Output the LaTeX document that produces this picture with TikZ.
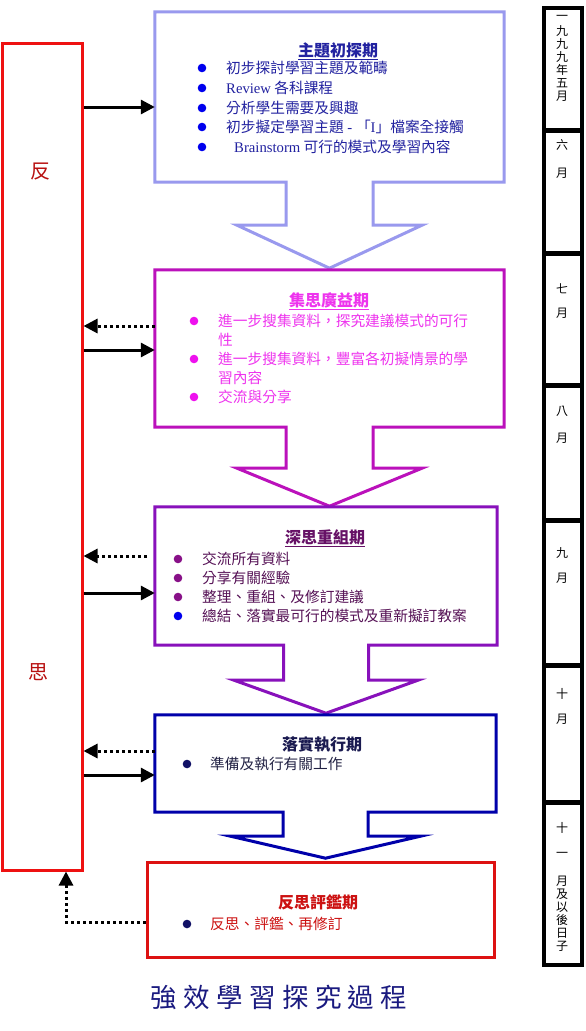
\documentclass[tikz,border=0pt]{standalone}
\usepackage{fontspec}
\setmainfont{Liberation Serif}
\newfontfamily\cjk{Noto Sans CJK TC}
\usetikzlibrary{arrows.meta,calc}
\definecolor{lav}{HTML}{9999EE}
\definecolor{navytxt}{HTML}{2222A0}
\definecolor{bblue}{HTML}{0000EE}
\definecolor{mag}{HTML}{BB11BB}
\definecolor{magtxt}{HTML}{EE33EE}
\definecolor{magdot}{HTML}{EE11EE}
\definecolor{purp}{HTML}{8811BB}
\definecolor{purptxt}{HTML}{551155}
\definecolor{purpb}{HTML}{881188}
\definecolor{purphead}{HTML}{661166}
\definecolor{dblue}{HTML}{0000AA}
\definecolor{dnavy}{HTML}{1A1A50}
\definecolor{navytext}{HTML}{222244}
\definecolor{bnavy}{HTML}{111166}
\definecolor{rred}{HTML}{DD1111}
\definecolor{lred}{HTML}{EE1111}
\definecolor{rtxt}{HTML}{CC1111}
\definecolor{ttl}{HTML}{1A1A80}
% node, colour, stem half width, stem length, head half width, tip length
\newcommand\stagepath[6]{%
  \draw[#2, line width=3pt] (#1.north west) -- (#1.north east) -- (#1.south east)
    -- ($(#1.south)+(#3,0)$) -- ($(#1.south)+(#3,#4)$) -- ($(#1.south)+(#5,#4)$)
    -- ($(#1.south)+(0,#4+#6)$) -- ($(#1.south)+(-#5,#4)$) -- ($(#1.south)+(-#3,#4)$)
    -- ($(#1.south)+(-#3,0)$) -- (#1.south west) -- cycle;}
\begin{document}
\begin{tikzpicture}[x=1pt,y=-1pt,
  stagebox/.style={draw=none, inner sep=0},
  item/.style={anchor=base west, inner sep=0, font=\cjk\fontsize{14.7}{19}\selectfont},
  head/.style={anchor=base, inner sep=0, font=\cjk\bfseries\fontsize{16}{19}\selectfont},
  dot/.style={circle, inner sep=0, minimum size=8.6pt},
  solidarr/.style={line width=3pt, -{Triangle[length=14pt,width=14pt]}},
  dotarr/.style={line width=3pt, dash pattern=on 3pt off 3pt, -{Triangle[length=14pt,width=14pt]}},
  mon/.style={inner sep=0, font=\cjk\fontsize{12}{13}\selectfont},
  side/.style={inner sep=0, font=\cjk\fontsize{20}{22}\selectfont, text=rtxt!90!black}
]
\useasboundingbox (0,0) rectangle (586,1031);
\fill[white] (0,0) rectangle (586,1031);

% stage boxes
\node[stagebox, minimum width=349pt, minimum height=170pt] (s1) at (329.5,97) {};
\node[stagebox, minimum width=349pt, minimum height=157pt] (s2) at (329.5,348.5) {};
\node[stagebox, minimum width=342pt, minimum height=138pt] (s3) at (326,576) {};
\node[stagebox, minimum width=341pt, minimum height=97pt] (s4) at (325.5,763.5) {};
\node[draw=rred, line width=3pt, inner sep=0, minimum width=347pt, minimum height=95pt] (s5) at (320.5,909.5) {};
\stagepath{s1}{lav}{43.5}{43}{92.5}{43}
\stagepath{s2}{mag}{43.5}{41}{92.5}{38}
\stagepath{s3}{purp}{42.5}{35}{92}{33}
\stagepath{s4}{dblue}{42.5}{24}{95}{22}

% left reflection box
\node[draw=lred, line width=3pt, inner sep=0, minimum width=80pt, minimum height=827pt] (refl) at (42,456.5) {};
\node[side] (fan) at (40,172) {反};
\node[side] (si) at (38,672) {思};

% stage 1
\node[head, navytxt] (h1) at (338,56) {\underline{主題初探期}};
\foreach \y [count=\i] in {68,88,108,127,147}
  \node[dot, fill=bblue] (b1\i) at (202,\y) {};
\node[item, navytxt] (t11) at (226,73.5) {初步探討學習主題及範疇};
\node[item, navytxt] (t12) at (226,93.5) {{\rmfamily Review} 各科課程};
\node[item, navytxt] (t13) at (226,113.5) {分析學生需要及興趣};
\node[item, navytxt] (t14) at (226,132.5) {初步擬定學習主題{\rmfamily\ -\ }「{\rmfamily I}」檔案全接觸};
\node[item, navytxt] (t15) at (234,152.5) {{\rmfamily Brainstorm} 可行的模式及學習內容};

% stage 2
\node[head, magtxt] (h2) at (329,306) {\underline{集思廣益期}};
\foreach \y [count=\i] in {321,359,397}
  \node[dot, fill=magdot] (b2\i) at (194,\y) {};
\node[item, magtxt] (t21) at (218,326.5) {進一步搜集資料，探究建議模式的可行};
\node[item, magtxt] (t22) at (218,345.5) {性};
\node[item, magtxt] (t23) at (218,364.5) {進一步搜集資料，豐富各初擬情景的學};
\node[item, magtxt] (t24) at (218,383.5) {習內容};
\node[item, magtxt] (t25) at (218,402.5) {交流與分享};

% stage 3
\node[head, purphead] (h3) at (325,543) {\underline{深思重組期}};
\foreach \y [count=\i] in {559,578,597}
  \node[dot, fill=purpb] (b3\i) at (178,\y) {};
\node[dot, fill=bblue] (b34) at (178,616) {};
\node[item, purptxt] (t31) at (202,564.5) {交流所有資料};
\node[item, purptxt] (t32) at (202,583.5) {分享有關經驗};
\node[item, purptxt] (t33) at (202,602.5) {整理、重組、及修訂建議};
\node[item, purptxt] (t34) at (202,621.5) {總結、落實最可行的模式及重新擬訂教案};

% stage 4
\node[head, dnavy] (h4) at (322,750) {落實執行期};
\node[dot, fill=bnavy] (b41) at (187,764) {};
\node[item, navytext] (t41) at (210,769.5) {準備及執行有關工作};

% stage 5
\node[head, rtxt] (h5) at (318,908) {反思評鑑期};
\node[dot, fill=bnavy] (b51) at (187,924) {};
\node[item, rtxt] (t51) at (210,929.5) {反思、評鑑、再修訂};

% connectors
\coordinate (a1) at (0,107);
\coordinate (d2) at (0,326);
\coordinate (a2) at (0,350);
\coordinate (d3) at (147,556);
\coordinate (a3) at (0,593);
\coordinate (d4) at (0,751);
\coordinate (a4) at (0,775);
\coordinate (c5) at (66,922);
\draw[solidarr] (refl.east |- a1) -- (s1.west |- a1);
\draw[dotarr] (s2.west |- d2) -- (refl.east |- d2);
\draw[solidarr] (refl.east |- a2) -- (s2.west |- a2);
\draw[dotarr] (d3) -- (refl.east |- d3);
\draw[solidarr] (refl.east |- a3) -- (s3.west |- a3);
\draw[dotarr] (s4.west |- d4) -- (refl.east |- d4);
\draw[solidarr] (refl.east |- a4) -- (s4.west |- a4);
\draw[dotarr] (s5.west |- c5) -- (c5) -- (c5 |- refl.south);

% timeline
\node[draw, line width=4pt, inner sep=0, minimum width=38pt, minimum height=957pt] (tl) at (563,486.5) {};
\foreach \y in {130,253,385,520,665,802}
  \draw[line width=5pt] (tl.west |- 0,\y) -- (tl.east |- 0,\y);
\foreach \c/\y [count=\i] in {一/18,九/31,九/44,九/57,年/70,五/83,月/96,
   六/145,月/173,七/289,月/313,八/411,月/438,九/553,月/578,十/694,月/719,
   十/828,一/855,月/881,及/894,以/907,後/920,日/933,子/946}
  \node[mon] (m\i) at (562,\y) {\c};

% title
\node[inner sep=0, text=ttl, font=\cjk\fontsize{26.5}{30}\selectfont\addfontfeature{LetterSpace=24}] (title) at (279,997) {強效學習探究過程};
\end{tikzpicture}
\end{document}
